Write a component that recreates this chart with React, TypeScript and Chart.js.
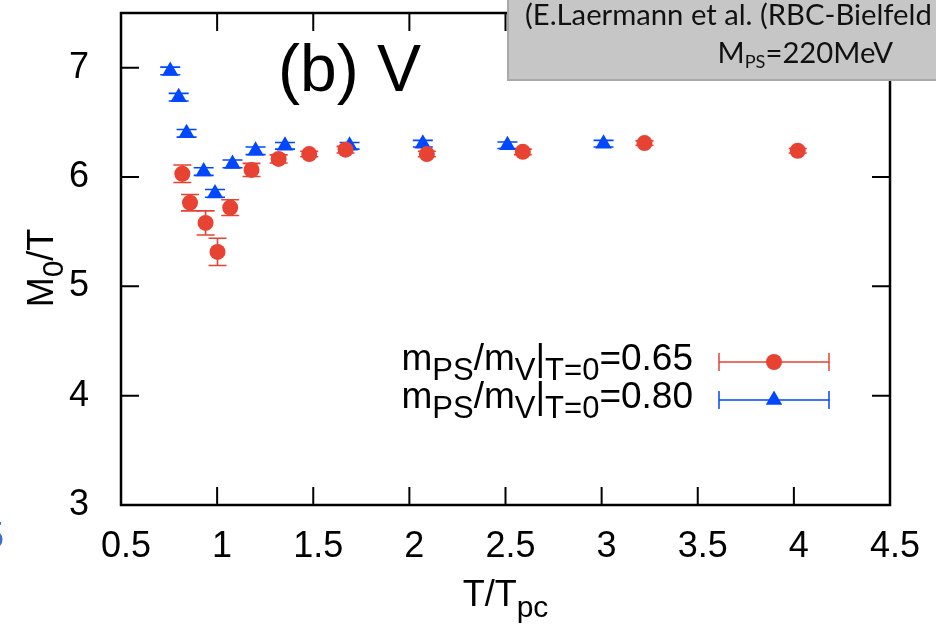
import React, { useEffect, useRef } from 'react';
import { Chart, registerables } from 'chart.js';
Chart.register(...registerables);

// ---- data ----
const redX = [0.819, 0.859, 0.94, 1.002, 1.068, 1.179, 1.32, 1.479, 1.668, 2.091, 2.59, 3.223, 4.02];
const redY = [6.03, 5.765, 5.58, 5.315, 5.72, 6.065, 6.165, 6.21, 6.25, 6.21, 6.23, 6.31, 6.24];
const redErr = [0.08, 0.075, 0.11, 0.125, 0.072, 0.06, 0.037, 0.025, 0.03, 0.025, 0.025, 0.02, 0.02];

const blueX = [0.756, 0.8, 0.841, 0.93, 0.989, 1.08, 1.2, 1.353, 1.689, 2.07, 2.51, 3.01];
const blueY = [6.97, 6.73, 6.4, 6.05, 5.85, 6.12, 6.24, 6.285, 6.285, 6.305, 6.29, 6.305];
const blueErr = [0.035, 0.035, 0.035, 0.035, 0.035, 0.035, 0.035, 0.03, 0.03, 0.03, 0.03, 0.03];

const xTicks = { min: 0.5, max: 4.5, step: 0.5 };
const yTicks = { min: 3, max: 7.5, step: 0.5 };

const legendLabels = ['0.65', '0.80'];
const panelLabel = '(b) V';
const noteLine1 = '(E.Laermann et al. (RBC-Bielfeld';
const noteLine2 = ['M', 'PS', '=220MeV'];

const RED = '#e84233';
const BLUE = '#0047ff';
const FONT = '"Liberation Sans", Arial, Helvetica, sans-serif';
const NOTE_FONT = 'Lato, "Open Sans", sans-serif';

type Seg = { t: string; size: number; dy: number; font?: string };

function richWidth(ctx: CanvasRenderingContext2D, segs: Seg[]) {
  let w = 0;
  for (const s of segs) {
    ctx.font = `${s.size}px ${s.font || FONT}`;
    w += ctx.measureText(s.t).width;
  }
  return w;
}
function drawRich(ctx: CanvasRenderingContext2D, segs: Seg[], x: number, y: number, align: 'left' | 'right' | 'center') {
  const w = richWidth(ctx, segs);
  let cx = align === 'left' ? x : align === 'right' ? x - w : x - w / 2;
  ctx.textAlign = 'left';
  ctx.textBaseline = 'alphabetic';
  for (const s of segs) {
    ctx.font = `${s.size}px ${s.font || FONT}`;
    ctx.fillText(s.t, cx, y + s.dy);
    cx += ctx.measureText(s.t).width;
  }
}

const errorBars = {
  id: 'errorBars',
  beforeDatasetsDraw(chart: any) {
    const ctx = chart.ctx as CanvasRenderingContext2D;
    const xs = chart.scales.x, ys = chart.scales.y;
    const sets = [
      { X: redX, Y: redY, E: redErr, c: RED, cap: 9 },
      { X: blueX, Y: blueY, E: blueErr, c: BLUE, cap: 10 },
    ];
    ctx.save();
    ctx.lineWidth = 1.6;
    for (const s of sets) {
      ctx.strokeStyle = s.c;
      s.X.forEach((xv, i) => {
        const px = xs.getPixelForValue(xv);
        const top = ys.getPixelForValue(s.Y[i] + s.E[i]);
        const bot = ys.getPixelForValue(s.Y[i] - s.E[i]);
        ctx.beginPath();
        ctx.moveTo(px, top); ctx.lineTo(px, bot);
        ctx.moveTo(px - s.cap, top); ctx.lineTo(px + s.cap, top);
        ctx.moveTo(px - s.cap, bot); ctx.lineTo(px + s.cap, bot);
        ctx.stroke();
      });
    }
    ctx.restore();
  },
};

const decorations = {
  id: 'decorations',
  afterDraw(chart: any) {
    const ctx = chart.ctx as CanvasRenderingContext2D;
    const a = chart.chartArea;
    const xs = chart.scales.x, ys = chart.scales.y;
    ctx.save();
    // frame
    ctx.strokeStyle = '#000';
    ctx.lineWidth = 2.5;
    ctx.strokeRect(a.left, a.top, a.right - a.left, a.bottom - a.top);
    // ticks (inside, mirrored)
    ctx.lineWidth = 2;
    ctx.beginPath();
    for (const t of xs.ticks) {
      const px = xs.getPixelForValue(t.value);
      ctx.moveTo(px, a.bottom); ctx.lineTo(px, a.bottom - 18);
      ctx.moveTo(px, a.top); ctx.lineTo(px, a.top + 18);
    }
    for (const t of ys.ticks) {
      const py = ys.getPixelForValue(t.value);
      const len = Number.isInteger(t.value) ? 18 : 9;
      ctx.moveTo(a.left, py); ctx.lineTo(a.left + len, py);
      ctx.moveTo(a.right, py); ctx.lineTo(a.right - len, py);
    }
    ctx.stroke();

    // panel label
    ctx.fillStyle = '#000';
    ctx.font = `66px ${FONT}`;
    ctx.textAlign = 'left';
    ctx.textBaseline = 'alphabetic';
    ctx.fillText(panelLabel, 278, 91);

    // legend
    const rows = [
      { lab: legendLabels[0], c: RED, y: 370, style: 'circle' },
      { lab: legendLabels[1], c: BLUE, y: 408, style: 'triangle' },
    ];
    for (const r of rows) {
      ctx.fillStyle = '#000';
      drawRich(ctx, [
        { t: 'm', size: 37, dy: 0 },
        { t: 'PS', size: 31, dy: 10 },
        { t: '/m', size: 37, dy: 0 },
        { t: 'V', size: 31, dy: 10 },
        { t: '|', size: 37, dy: 0 },
        { t: 'T=0', size: 31, dy: 10 },
        { t: '=' + r.lab, size: 37, dy: 0 },
      ], 693, r.y, 'right');
      const my = r.y - 8;
      ctx.strokeStyle = r.c;
      ctx.lineWidth = 1.5;
      ctx.beginPath();
      ctx.moveTo(719, my); ctx.lineTo(829, my);
      ctx.moveTo(719, my - 9); ctx.lineTo(719, my + 9);
      ctx.moveTo(829, my - 9); ctx.lineTo(829, my + 9);
      ctx.stroke();
      ctx.fillStyle = r.c;
      ctx.beginPath();
      if (r.style === 'circle') {
        ctx.arc(774, my, 8, 0, Math.PI * 2);
      } else {
        const rr = 9.5;
        ctx.moveTo(774, my - rr);
        ctx.lineTo(774 + rr * 0.866, my + rr / 2);
        ctx.lineTo(774 - rr * 0.866, my + rr / 2);
        ctx.closePath();
      }
      ctx.fill();
    }

    // axis titles
    ctx.fillStyle = '#000';
    drawRich(ctx, [
      { t: 'T/T', size: 36, dy: 0 },
      { t: 'pc', size: 30, dy: 11 },
    ], (a.left + a.right) / 2, 606, 'center');
    ctx.save();
    ctx.translate(53, 268);
    ctx.rotate(-Math.PI / 2);
    drawRich(ctx, [
      { t: 'M', size: 36, dy: 0 },
      { t: '0', size: 30, dy: 10 },
      { t: '/T', size: 36, dy: 0 },
    ], 0, 0, 'center');
    ctx.restore();

    // annotation box
    ctx.fillStyle = '#c6c6c6';
    ctx.fillRect(507, -4, 440, 85);
    ctx.strokeStyle = '#a8a8a8';
    ctx.lineWidth = 2;
    ctx.beginPath();
    ctx.moveTo(508, -4); ctx.lineTo(508, 80); ctx.lineTo(940, 80);
    ctx.stroke();
    ctx.fillStyle = '#111';
    ctx.font = `100px ${NOTE_FONT}`;
    const w100 = ctx.measureText(noteLine1).width;
    const ns = (100 * 407) / w100;
    drawRich(ctx, [{ t: noteLine1, size: ns, dy: 0, font: NOTE_FONT }], 525, 25, 'left');
    drawRich(ctx, [
      { t: noteLine2[0], size: ns, dy: 0, font: NOTE_FONT },
      { t: noteLine2[1], size: ns * 0.62, dy: 5, font: NOTE_FONT },
      { t: noteLine2[2], size: ns, dy: 0, font: NOTE_FONT },
    ], 893, 63, 'right');

    // clipped fragment at the far left
    ctx.fillStyle = '#3b6fc9';
    ctx.font = `36px ${FONT}`;
    ctx.textAlign = 'right';
    ctx.fillText('5', 4, 548);
    ctx.restore();
  },
};

export default function App() {
  const ref = useRef<HTMLCanvasElement>(null);
  useEffect(() => {
    const chart = new Chart(ref.current!, {
      type: 'scatter',
      data: {
        datasets: [
          {
            label: 'mPS/mV|T=0=0.65',
            data: redX.map((x, i) => ({ x, y: redY[i] })),
            backgroundColor: RED,
            borderColor: RED,
            pointStyle: 'circle',
            pointRadius: 8,
            borderWidth: 0,
          },
          {
            label: 'mPS/mV|T=0=0.80',
            data: blueX.map((x, i) => ({ x, y: blueY[i] })),
            backgroundColor: BLUE,
            borderColor: BLUE,
            pointStyle: 'triangle',
            pointRadius: 9.5,
            borderWidth: 0,
          },
        ],
      },
      options: {
        responsive: false,
        animation: false,
        events: [],
        layout: { padding: { top: 13, right: 46, left: 0, bottom: 0 } },
        plugins: { legend: { display: false }, tooltip: { enabled: false } },
        scales: {
          x: {
            type: 'linear',
            min: xTicks.min,
            max: xTicks.max,
            ticks: {
              stepSize: xTicks.step,
              autoSkip: false,
              maxRotation: 0,
              padding: 16,
              labelOffset: 5,
              color: '#000',
              font: { family: FONT, size: 36, lineHeight: 1 },
              callback: (v: any) => String(Number(v)),
            },
            grid: { display: false },
            border: { display: false },
            afterFit: (s: any) => {
              s.height = 125;
              s.paddingLeft = 0;
              s.paddingRight = 0;
            },
          },
          y: {
            type: 'linear',
            min: yTicks.min,
            max: yTicks.max,
            ticks: {
              stepSize: yTicks.step,
              padding: 24,
              color: '#000',
              font: { family: FONT, size: 36, lineHeight: 1 },
              callback: (v: any) => (Number.isInteger(v) ? String(v) : null),
            },
            grid: { display: false },
            border: { display: false },
            afterFit: (s: any) => {
              s.width = 121;
              s.paddingTop = 0;
              s.paddingBottom = 0;
            },
          },
        },
      },
      plugins: [errorBars, decorations],
    });
    return () => chart.destroy();
  }, []);
  return (
    <div style={{ position: 'fixed', left: 0, top: 0, width: 936, height: 630, background: '#fff' }}>
      <canvas ref={ref} width={936} height={630} style={{ display: 'block', width: 936, height: 630 }} />
    </div>
  );
}
